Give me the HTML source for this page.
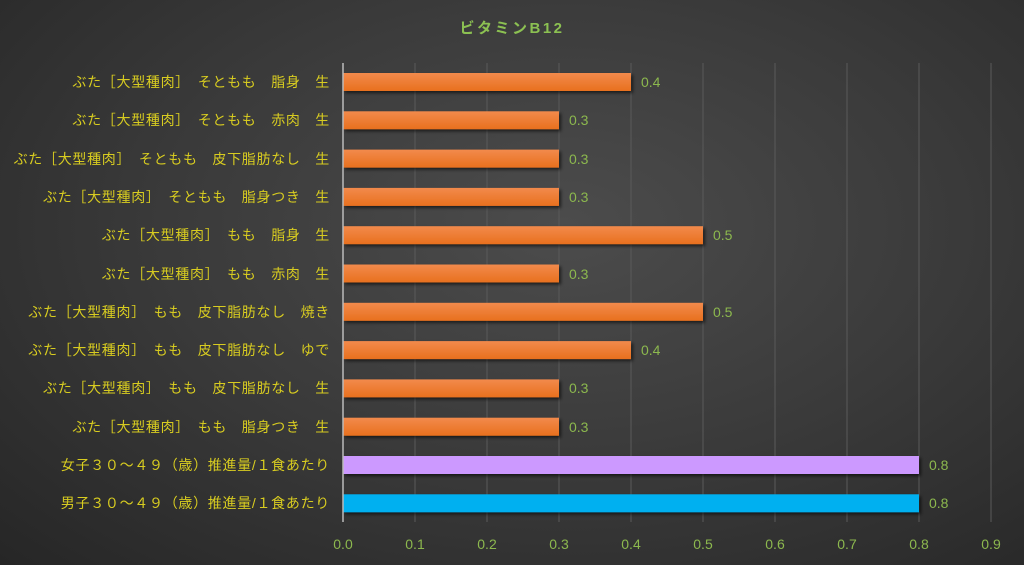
<!DOCTYPE html><html><head><meta charset="utf-8"><style>
body{margin:0;width:1024px;height:565px;overflow:hidden;background:radial-gradient(ellipse at 55% 40%,#4c4c4c 0%,#3a3a3a 50%,#262626 100%);}
svg{position:absolute;left:0;top:0}
text{font-family:"Liberation Sans","Noto Sans CJK JP",sans-serif}
</style></head><body>
<svg width="1024" height="565" xmlns="http://www.w3.org/2000/svg">
<defs>
<linearGradient id="o" x1="0" y1="0" x2="0" y2="1"><stop offset="0" stop-color="#f28a4c"/><stop offset="1" stop-color="#e8701e"/></linearGradient>
<filter id="s"><feDropShadow dx="2" dy="2" stdDeviation="1.5" flood-color="#000" flood-opacity="0.6"/></filter>
</defs>
<text x="512" y="33" text-anchor="middle" font-size="15" font-weight="bold" fill="#8cc152" letter-spacing="2.5">ビタミンB12</text>
<g stroke="#5a5a5a" stroke-width="1">
<line x1="415" y1="63" x2="415" y2="522"/><line x1="487" y1="63" x2="487" y2="522"/><line x1="559" y1="63" x2="559" y2="522"/><line x1="631" y1="63" x2="631" y2="522"/><line x1="703" y1="63" x2="703" y2="522"/><line x1="775" y1="63" x2="775" y2="522"/><line x1="847" y1="63" x2="847" y2="522"/><line x1="919" y1="63" x2="919" y2="522"/><line x1="991" y1="63" x2="991" y2="522"/>
</g>
<g filter="url(#s)">
<rect x="343" y="73" width="288" height="18" fill="url(#o)"/>
<rect x="343" y="111.3" width="216" height="18" fill="url(#o)"/>
<rect x="343" y="149.6" width="216" height="18" fill="url(#o)"/>
<rect x="343" y="187.9" width="216" height="18" fill="url(#o)"/>
<rect x="343" y="226.2" width="360" height="18" fill="url(#o)"/>
<rect x="343" y="264.5" width="216" height="18" fill="url(#o)"/>
<rect x="343" y="302.8" width="360" height="18" fill="url(#o)"/>
<rect x="343" y="341.1" width="288" height="18" fill="url(#o)"/>
<rect x="343" y="379.4" width="216" height="18" fill="url(#o)"/>
<rect x="343" y="417.7" width="216" height="18" fill="url(#o)"/>
<rect x="343" y="456" width="576" height="18" fill="#cc99ff"/>
<rect x="343" y="494.3" width="576" height="18" fill="#00b0f0"/>
</g>
<line x1="343" y1="63" x2="343" y2="522" stroke="#bbb" stroke-width="1.5"/>
<g font-size="14" fill="#d8cc20" text-anchor="end" letter-spacing="0.7">
<text x="330" y="87">ぶた［大型種肉］　そともも　脂身　生</text>
<text x="330" y="125">ぶた［大型種肉］　そともも　赤肉　生</text>
<text x="330" y="164">ぶた［大型種肉］　そともも　皮下脂肪なし　生</text>
<text x="330" y="202">ぶた［大型種肉］　そともも　脂身つき　生</text>
<text x="330" y="240">ぶた［大型種肉］　もも　脂身　生</text>
<text x="330" y="279">ぶた［大型種肉］　もも　赤肉　生</text>
<text x="330" y="317">ぶた［大型種肉］　もも　皮下脂肪なし　焼き</text>
<text x="330" y="355">ぶた［大型種肉］　もも　皮下脂肪なし　ゆで</text>
<text x="330" y="393">ぶた［大型種肉］　もも　皮下脂肪なし　生</text>
<text x="330" y="432">ぶた［大型種肉］　もも　脂身つき　生</text>
<text x="330" y="470">女子３０～４９（歳）推進量/１食あたり</text>
<text x="330" y="508">男子３０～４９（歳）推進量/１食あたり</text>
</g>
<g font-size="14" fill="#8cb84e">
<text x="641" y="87">0.4</text><text x="569" y="125">0.3</text><text x="569" y="164">0.3</text><text x="569" y="202">0.3</text>
<text x="713" y="240">0.5</text><text x="569" y="279">0.3</text><text x="713" y="317">0.5</text><text x="641" y="355">0.4</text>
<text x="569" y="393">0.3</text><text x="569" y="432">0.3</text><text x="929" y="470">0.8</text><text x="929" y="508">0.8</text>
</g>
<g font-size="14" fill="#8cb84e" text-anchor="middle">
<text x="343" y="549">0.0</text><text x="415" y="549">0.1</text><text x="487" y="549">0.2</text><text x="559" y="549">0.3</text><text x="631" y="549">0.4</text><text x="703" y="549">0.5</text><text x="775" y="549">0.6</text><text x="847" y="549">0.7</text><text x="919" y="549">0.8</text><text x="991" y="549">0.9</text>
</g>
</svg></body></html>
